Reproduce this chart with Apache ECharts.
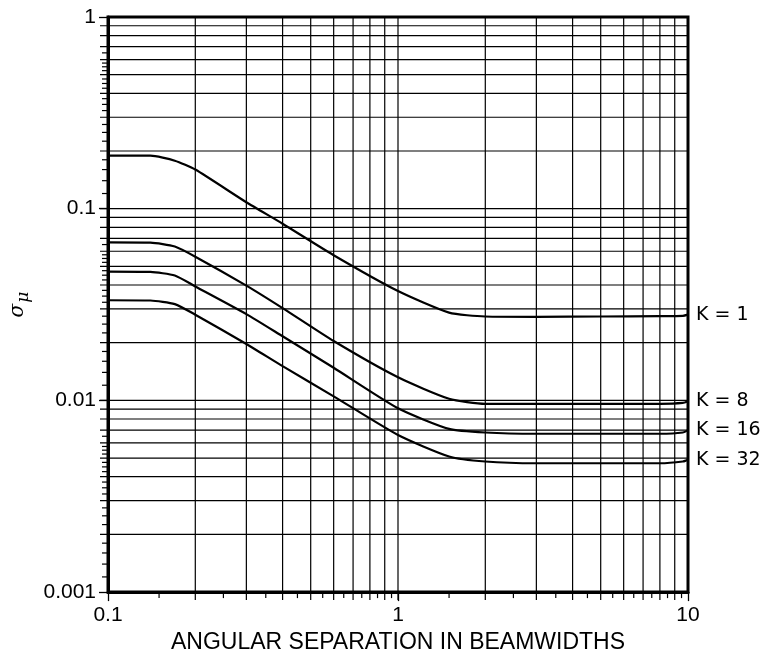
<!DOCTYPE html>
<html><head><meta charset="utf-8">
<script src="https://cdn.jsdelivr.net/npm/echarts@6/dist/echarts.min.js"></script>
<style>html,body{margin:0;padding:0;background:#fff}#c{width:766px;height:659px}</style>
</head><body><div id="c"></div>
<script>
// angular separation (beamwidths)
const xVals = [0.1, 0.14, 0.17, 0.2, 0.3, 0.4, 0.6, 1.0, 1.5, 2, 3, 5, 8, 9.6, 10];
const k1  = [0.189, 0.189, 0.178, 0.160, 0.108, 0.0835, 0.0572, 0.0372, 0.0287, 0.0274, 0.0273, 0.0274, 0.0275, 0.0276, 0.0280];
const k8  = [0.0667, 0.0665, 0.0635, 0.0562, 0.0397, 0.0303, 0.0204, 0.0132, 0.0102, 0.0096, 0.0096, 0.0096, 0.0096, 0.0097, 0.0099];
const k16 = [0.0470, 0.0468, 0.0448, 0.0393, 0.0282, 0.0216, 0.0148, 0.0091, 0.0071, 0.0068, 0.0067, 0.0067, 0.0067, 0.0068, 0.0070];
const k32 = [0.0333, 0.0332, 0.0318, 0.0280, 0.0197, 0.0151, 0.0105, 0.0066, 0.0051, 0.0048, 0.0047, 0.0047, 0.0047, 0.0048, 0.0049];
const seriesNames = ['K = 1', 'K = 8', 'K = 16', 'K = 32'];
// grid lines
const gridX = [0.2, 0.3, 0.4, 0.5, 0.6, 0.7, 0.8, 0.9, 1, 2, 3, 4, 5, 6, 7, 8, 9];
const gridY = [0.002, 0.003, 0.004, 0.005, 0.006, 0.007, 0.008, 0.009, 0.01,
               0.02, 0.03, 0.04, 0.05, 0.06, 0.07, 0.08, 0.09, 0.1,
               0.2, 0.3, 0.4, 0.5, 0.6, 0.7, 0.8, 0.9];
// minor tick marks
const xMinorTicks = [0.15, 0.25, 0.35, 0.45, 0.55, 0.65, 0.75, 0.85, 0.95, 1.5, 2.5, 3.5, 4.5, 5.5, 6.5, 7.5, 8.5, 9.5];
const yTickMantissas = [1.2, 1.4, 1.6, 1.8, 2.25, 2.5, 2.75, 3.25, 3.5, 3.75, 4.25, 4.5, 4.75, 5.25, 5.5, 5.75, 6.5];
const yDecades = [0.001, 0.01, 0.1];
const yMinorTicks = [];
yDecades.forEach(d => yTickMantissas.forEach(m => yMinorTicks.push(+(d * m).toPrecision(4))));

const font = '"Liberation Sans", Arial, Helvetica, sans-serif';
const X_MIN = 0.1, X_MAX = 10, Y_MIN = 0.001, Y_MAX = 1;
const chart = echarts.init(document.getElementById('c'));
const pair = ys => xVals.map((x, i) => [x, ys[i]]);
const curve = (name, ys) => ({
  name, type: 'line', data: pair(ys), showSymbol: false, smooth: 0.2, z: 5,
  lineStyle: { color: '#000', width: 2.2 }, silent: true,
  endLabel: { show: true, formatter: '{a}', color: '#000', fontSize: 19, fontFamily: '"DejaVu Sans", sans-serif', distance: 8 }
});
const lineEl = (x1, y1, x2, y2, w) => ({ type: 'line', shape: { x1, y1, x2, y2 }, style: { stroke: '#000', lineWidth: w } });

chart.setOption({
  animation: false,
  backgroundColor: '#fff',
  grid: { left: 108, right: 78, top: 17, bottom: 62, show: true, borderColor: '#000', borderWidth: 3 },
  xAxis: {
    type: 'log', logBase: 10, min: X_MIN, max: X_MAX,
    name: 'ANGULAR SEPARATION IN BEAMWIDTHS', nameLocation: 'middle', nameGap: 37,
    nameTextStyle: { color: '#000', fontSize: 23, fontFamily: font },
    axisLine: { show: true, lineStyle: { color: '#000', width: 3 } },
    axisTick: { show: true, length: 9, lineStyle: { color: '#000', width: 1.3 } },
    axisLabel: { color: '#000', fontSize: 21, fontFamily: font, margin: 13, formatter: v => String(+v.toPrecision(3)) },
    splitLine: { show: false }
  },
  yAxis: {
    type: 'log', logBase: 10, min: Y_MIN, max: Y_MAX,
    name: '{s|σ}{m|μ}', nameLocation: 'middle', nameGap: 72, nameRotate: 90,
    nameTextStyle: { color: '#000', rich: {
      s: { fontSize: 20, fontStyle: 'italic', fontFamily: '"DejaVu Serif", serif', color: '#000' },
      m: { fontSize: 17, fontStyle: 'italic', fontFamily: '"DejaVu Serif", serif', color: '#000', padding: [12, 0, 0, 1] } } },
    axisLine: { show: true, lineStyle: { color: '#000', width: 3 } },
    axisTick: { show: true, length: 9, lineStyle: { color: '#000', width: 1.3 } },
    axisLabel: { color: '#000', fontSize: 21, fontFamily: font, margin: 12, formatter: v => String(+v.toPrecision(3)) },
    splitLine: { show: false }
  },
  series: [
    { type: 'custom', silent: true, z: 1, data: gridY.map(v => [X_MIN, v]),
      renderItem: (p, api) => {
        const a = api.coord([X_MIN, api.value(1)]), b = api.coord([X_MAX, api.value(1)]);
        return lineEl(a[0] - 8, a[1], b[0], b[1], 1.2);
      } },
    { type: 'custom', silent: true, z: 1, data: gridX.map(v => [v, Y_MIN]),
      renderItem: (p, api) => {
        const a = api.coord([api.value(0), Y_MIN]), b = api.coord([api.value(0), Y_MAX]);
        return lineEl(a[0], a[1] + 8, b[0], b[1], 1.2);
      } },
    { type: 'custom', silent: true, z: 1, data: yMinorTicks.map(v => [X_MIN, v]),
      renderItem: (p, api) => {
        const a = api.coord([X_MIN, api.value(1)]);
        return lineEl(a[0] - 6, a[1], a[0], a[1], 1.2);
      } },
    { type: 'custom', silent: true, z: 1, data: xMinorTicks.map(v => [v, Y_MIN]),
      renderItem: (p, api) => {
        const a = api.coord([api.value(0), Y_MIN]);
        return lineEl(a[0], a[1], a[0], a[1] + 6, 1.2);
      } },
    curve(seriesNames[0], k1),
    curve(seriesNames[1], k8),
    curve(seriesNames[2], k16),
    curve(seriesNames[3], k32)
  ]
});
</script></body></html>
